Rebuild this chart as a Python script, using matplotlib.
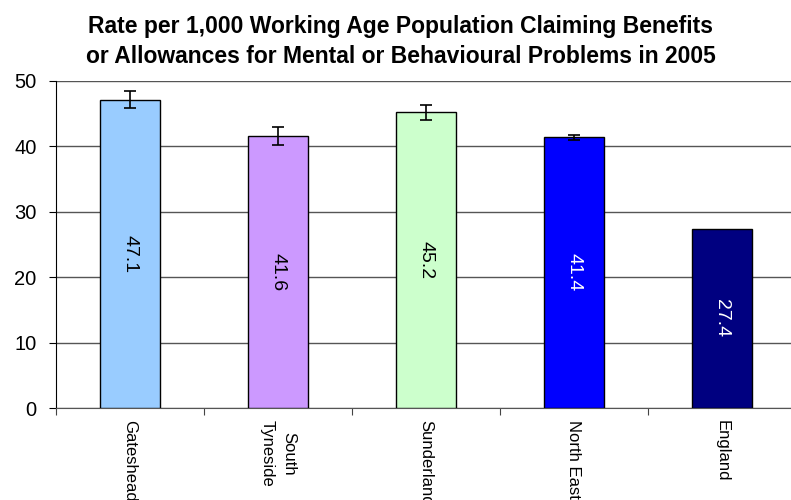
# Rate per 1,000 working age population claiming benefits (mental/behavioural), 2005
import numpy as np
import matplotlib.pyplot as plt

plt.rcParams['font.family'] = ['Liberation Sans', 'DejaVu Sans']

# Data
areas = ['Gateshead', 'South\nTyneside', 'Sunderland', 'North East', 'England']
rates = [47.1, 41.6, 45.2, 41.4, 27.4]
errs = [1.3, 1.35, 1.1, 0.35, 0.0]
colours = ['#99CCFF', '#CC99FF', '#CCFFCC', '#0000FF', '#000080']
label_cols = ['black', 'black', 'black', 'white', 'white']

fig = plt.figure(figsize=(7.91, 5), dpi=100)
ax = fig.add_axes([56/791, 92/500, 740/791, 327/500])

x = np.arange(len(areas))
ax.bar(x, rates, width=0.41, color=colours, edgecolor='black', linewidth=1, zorder=3)
# error bars only where there is one
has_err = [i for i in range(len(areas)) if errs[i] > 0]
ax.errorbar(x[has_err], np.array(rates)[has_err], yerr=np.array(errs)[has_err],
            fmt='none', ecolor='black', elinewidth=1.2, capsize=4, capthick=1.2, zorder=4)

for i in range(len(areas)):
    ax.text(x[i], rates[i] / 2, '%.1f' % rates[i], rotation=-90, ha='center', va='center',
            fontsize=14, color=label_cols[i], zorder=5)

ax.set_xlim(-0.5, len(areas) - 0.5)
ax.set_ylim(0, 50)
ax.set_yticks(range(0, 51, 10))
ax.yaxis.grid(True, color='#555555', linewidth=1)
ax.set_axisbelow(True)

# category labels between boundary ticks
ax.set_xticks(np.arange(len(areas) + 1) - 0.5)
ax.set_xticklabels([])
ax.set_xticks(x, minor=True)
ax.set_xticklabels(areas, minor=True, rotation=-90, ha='center', va='top',
                   multialignment='center', fontsize=12, linespacing=1.5)
ax.tick_params(axis='x', which='minor', length=0, pad=9)
ax.tick_params(axis='x', which='major', length=5, color='#444444')
ax.tick_params(axis='y', length=5, labelsize=14.5, pad=9)

for s in ['top', 'right']:
    ax.spines[s].set_visible(False)
ax.spines['bottom'].set_color('#555555')
ax.spines['left'].set_color('black')

fig.text(401/791, 1 - 33/500, 'Rate per 1,000 Working Age Population Claiming Benefits',
         ha='center', va='baseline', fontsize=16.5, fontweight='bold')
fig.text(401/791, 1 - 63/500, 'or Allowances for Mental or Behavioural Problems in 2005',
         ha='center', va='baseline', fontsize=16.5, fontweight='bold')

fig.savefig('out.png', dpi=100)
